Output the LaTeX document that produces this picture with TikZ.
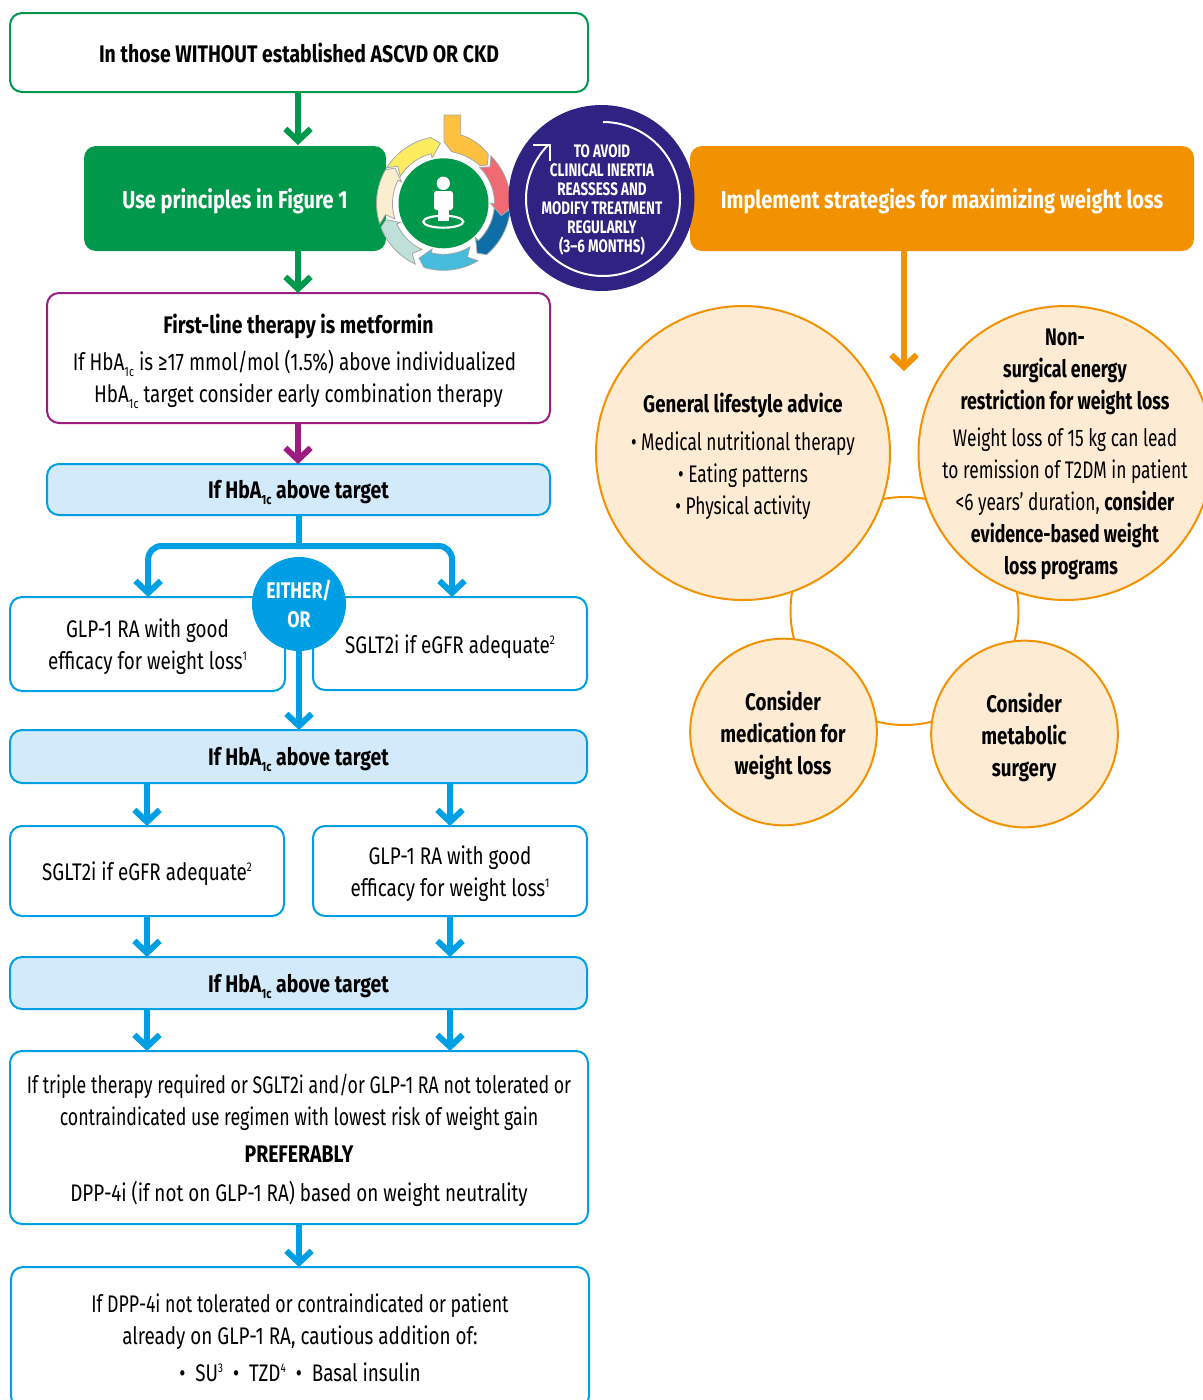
\documentclass[tikz,border=0pt]{standalone}
\usepackage{fontspec}
\setmainfont[FakeStretch=0.74,BoldFeatures={FakeStretch=0.78}]{Fira Sans}
\newfontfamily\wider[FakeStretch=0.785,BoldFeatures={FakeStretch=0.81}]{Fira Sans}
\newfontfamily\tighter[FakeStretch=0.722,BoldFeatures={FakeStretch=0.74}]{Fira Sans}
\usetikzlibrary{arrows.meta}
\definecolor{cgreen}{HTML}{00984A}
\definecolor{corange}{HTML}{F39200}
\definecolor{cpurple}{HTML}{9C1C80}
\definecolor{cblue}{HTML}{009FE3}
\definecolor{clblue}{HTML}{D3EAFA}
\definecolor{cpeach}{HTML}{FDEBD3}
\definecolor{cnavy}{HTML}{2E2382}
\definecolor{wyellow}{HTML}{FCEC5F}
\definecolor{wgold}{HTML}{FDC13F}
\definecolor{wred}{HTML}{EF6A72}
\definecolor{wblue}{HTML}{0F6EA8}
\definecolor{wlblue}{HTML}{45BCDC}
\definecolor{wpale}{HTML}{BFE0D8}
\definecolor{wcream}{HTML}{F9EFCF}
\newcommand\lo[1]{\raisebox{-.5ex}{\fontsize{10}{10}\selectfont #1}}
\newcommand\hi[1]{\raisebox{.7ex}{\fontsize{9.5}{9.5}\selectfont #1}}
\newcommand\HbA{HbA\lo{1c}}
\newcommand\drop[1]{\rule{0pt}{#1pt}\ignorespaces}
\newcommand\wseg[4]{%
\draw[wheelline,fill=#1] plot[domain=#2:#3,samples=16] ({443.5+67*cos(\x)},{203.3+67*sin(\x)})
 -- ({443.5+60*cos(#4)},{203.3+60*sin(#4)})
 -- ({443.5+47*cos(#3-3)},{203.3+47*sin(#3-3)})
 -- plot[domain=#3-3:#2,samples=16] ({443.5+51*cos(\x)},{203.3+51*sin(\x)})
 -- ({443.5+59*cos(#2+7)},{203.3+59*sin(#2+7)}) -- cycle;}
\tikzset{
 x=0.75pt,y=-0.75pt,
 geom/.style n args={4}{minimum width={(#3-#1)*0.75pt},minimum height={(#4-#2)*0.75pt},at={({(#1+#3)/2},{(#2+#4)/2})}},
 base/.style={rectangle,rounded corners=9pt,line width=1.5pt,inner sep=0pt,outer sep=0pt,align=center,text=black,
   font=\fontsize{18}{24}\selectfont},
 gbox/.style={base,draw=cgreen,fill=white},
 pbox/.style={base,draw=cpurple,fill=white},
 wbox/.style={base,draw=cblue,fill=white},
 ifbox/.style={base,draw=cblue,fill=clblue,font=\wider\fontsize{18}{24}\selectfont\bfseries},
 solid box/.style={base,text=white,font=\wider\fontsize{18.5}{24}\selectfont\bfseries},
 bubble/.style={circle,draw=corange,fill=cpeach,line width=1.5pt,inner sep=0pt,outer sep=0pt},
 bubbletext/.style={align=center,inner sep=0pt,font=\fontsize{18}{24}\selectfont},
 arr/.style={line width=4.5pt,-{Straight Barb[length=9pt,width=19pt]}},
 wheelline/.style={draw=black!35,line width=0.6pt},
}
\begin{document}
\begin{tikzpicture}
\path[use as bounding box] (0,0) rectangle (1203,1400);
\clip (0,0) rectangle (1203,1400);
% left column boxes
\node[gbox,geom={10}{13}{588}{92},font=\wider\fontsize{18}{24}\selectfont\bfseries] (top) {\drop{15.5}In those WITHOUT established ASCVD OR CKD};
\node[solid box,fill=cgreen,geom={84}{146}{386}{251}] (use) {\drop{19.5}Use principles in Figure 1};
\node[solid box,fill=corange,geom={690}{146}{1194}{251}] (impl) {\drop{19.5}Implement strategies for maximizing weight loss};
\node[pbox,geom={47}{293}{550}{423},font=\wider\fontsize{18}{24}\selectfont] (first) {\drop{19.5}\textbf{First-line therapy is metformin}\\[4pt]
 \hspace*{-6pt}If \HbA{} is ≥17 mmol/mol (1.5\%) above individualized\\ \HbA{} target consider early combination therapy};
\node[ifbox,geom={47}{464}{550}{515}] (ifa) {\drop{18.5}If \HbA{} above target};
\node[wbox,geom={10}{597}{285}{691},font=\wider\fontsize{18}{24}\selectfont] (glpa) {\drop{18.5}GLP-1 RA with good\\efficacy for weight loss\hi{1}};
\node[wbox,geom={313}{597}{587}{690},font=\wider\fontsize{18}{24}\selectfont] (sgla) {\drop{18.5}SGLT2i if eGFR adequate\hi{2}};
\node[ifbox,geom={10}{730}{587}{783}] (ifb) {\drop{18.5}If \HbA{} above target};
\node[wbox,geom={10}{826}{284}{916},font=\wider\fontsize{18}{24}\selectfont] (sglb) {\drop{18.5}SGLT2i if eGFR adequate\hi{2}};
\node[wbox,geom={313}{826}{587}{916},font=\wider\fontsize{18}{24}\selectfont] (glpb) {\drop{18.5}GLP-1 RA with good\\efficacy for weight loss\hi{1}};
\node[ifbox,geom={10}{957}{587}{1009}] (ifc) {\drop{18.5}If \HbA{} above target};
\node[wbox,geom={10}{1051}{588}{1224}] (triple) {\drop{18.5}If triple therapy required or SGLT2i and/or GLP-1 RA not tolerated or\\
 contraindicated use regimen with lowest risk of weight gain\\[4pt]
 {\wider\bfseries PREFERABLY}\\[5pt] {\wider DPP-4i (if not on GLP-1 RA) based on weight neutrality}};
\node[wbox,geom={11}{1267}{589}{1408}] (last) {If DPP-4i not tolerated or contraindicated or patient\\
 {\wider already on GLP-1 RA, cautious addition of:}\\[4pt]
 {\wider •\ \ SU\hi{3}\ \ •\ \ TZD\hi{4}\ \ •\ \ Basal insulin}};
% connectors
\draw[arr,cgreen] (top.south -| 298,0) -- (298,145) coordinate (useIn);
\draw[arr,cgreen] (298,251) coordinate (useOut) -- (first.north -| 298,0);
\draw[arr,cpurple] (first.south -| 298,0) -- (ifa.north -| 298,0);
\coordinate (bj) at (299,546);
\draw[line width=4.5pt,cblue] (ifa.south -| 299,0) -- (bj);
\draw[arr,cblue,rounded corners=10pt] (bj) -| ([xshift=0.5pt]glpa.north);
\draw[arr,cblue,rounded corners=10pt] (bj) -| ([xshift=1.5pt]sgla.north);
\foreach \ax in {147,450} {
 \draw[arr,cblue] (ifb.south -| \ax,0) -- (sglb.north -| \ax,0);
 \draw[arr,cblue] (sglb.south -| \ax,0) -- (ifc.north -| \ax,0);
 \draw[arr,cblue] (ifc.south -| \ax,0) -- (triple.north -| \ax,0);
}
\draw[arr,cblue] (triple.south -| 299,0) -- (last.north -| 299,0);
\node[circle,fill=cblue,text=white,minimum size=70.5pt,inner sep=0pt,outer sep=0pt,align=center,
  font=\fontsize{17}{22}\selectfont\bfseries] (either) at (299,604) {EITHER/\\OR};
\draw[arr,cblue] (either.south) -- (ifb.north -| 299,0);
% wheel
\node[circle,fill=white,minimum size=78pt,inner sep=0pt] (hub) at (443.5,203.3) {};
\wseg{wyellow}{212}{259}{267}
\wseg{wred}{-45}{3}{13}
\wseg{wblue}{5}{50}{56}
\wseg{wlblue}{59}{107}{114}
\wseg{wpale}{115}{159}{164}
\wseg{wcream}{162}{210}{216}
\draw[wheelline,fill=wgold] (444,115) -- (460.7,115) -- (460.7,135)
  .. controls (472,138) and (482,146) .. (488.3,154.3) -- (487.3,165) -- (480,165.7)
  .. controls (472,158) and (462,154) .. (451.7,151.7) -- (444,141.7) -- cycle;
\node[circle,fill=cgreen,minimum size=67.5pt,inner sep=0pt,outer sep=0pt] (disk) at (443.5,203.3) {};
\draw[white,line width=1.6pt] (443.3,221.7) ellipse [x radius=20,y radius=6];
\fill[white] (443.3,183.3) circle [radius=6.7];
\fill[white,rounded corners=2pt] (434,191) rectangle (453,210);
\fill[white] (437.7,205) rectangle (449,221);
% reminder circle
\node[circle,fill=cnavy,minimum size=139.5pt,inner sep=0pt,outer sep=0pt] (remind) at (601.5,198) {};
\draw[white,line width=1.5pt] plot[domain=-90:224,samples=120] ({603+77*cos(\x)},{199+77*sin(\x)});
\draw[white,line width=1.5pt] (533,144.5) -- (549.5,144.5) -- (549.5,161);
\node[align=center,text=white,inner sep=0pt,font=\tighter\fontsize{13.6}{14.25}\selectfont\bfseries] (remindt) at (602,200)
 {TO AVOID\\CLINICAL INERTIA\\REASSESS AND\\MODIFY TREATMENT\\REGULARLY\\(3–6 MONTHS)};
% right side
\coordinate (orEnd) at (904,371);
\draw[arr,corange] (impl.south -| 904,0) -- (orEnd);
\node[circle,draw=corange,line width=1.5pt,minimum size=171pt,inner sep=0pt] (ring) at (904.5,611) {};
\node[bubble,minimum size=220.5pt] (lifec) at (743,453) {};
\node[bubble,minimum size=220.5pt] (nons) at (1065.5,453) {};
\node[bubble,minimum size=140pt] (medc) at (783.5,732) {};
\node[bubble,minimum size=140pt] (metc) at (1024.5,734) {};
\node[bubbletext,font=\tighter\fontsize{18}{24}\selectfont] (lifet) at (743,456) {{\normalfont\bfseries General lifestyle advice}\\[4.5pt]• Medical nutritional therapy\\• Eating patterns\\• Physical activity};
\node[bubbletext,font=\tighter\fontsize{18}{24}\selectfont] (nonst) at (1065,454.5) {\textbf{Non-}\\\textbf{surgical energy}\\\textbf{restriction for weight loss}\\[4pt]
 Weight loss of 15 kg can lead\\to remission of T2DM in patient\\<6 years’ duration, \textbf{consider}\\\textbf{evidence-based weight}\\\hspace*{-6pt}\textbf{loss programs}};
\node[bubbletext,font=\fontsize{18}{24}\selectfont\bfseries] (medt) at (783,735) {Consider\\medication for\\weight loss};
\node[bubbletext,font=\fontsize{18}{24}\selectfont\bfseries] (mett) at (1024,737) {Consider\\metabolic\\surgery};
\end{tikzpicture}
\end{document}
